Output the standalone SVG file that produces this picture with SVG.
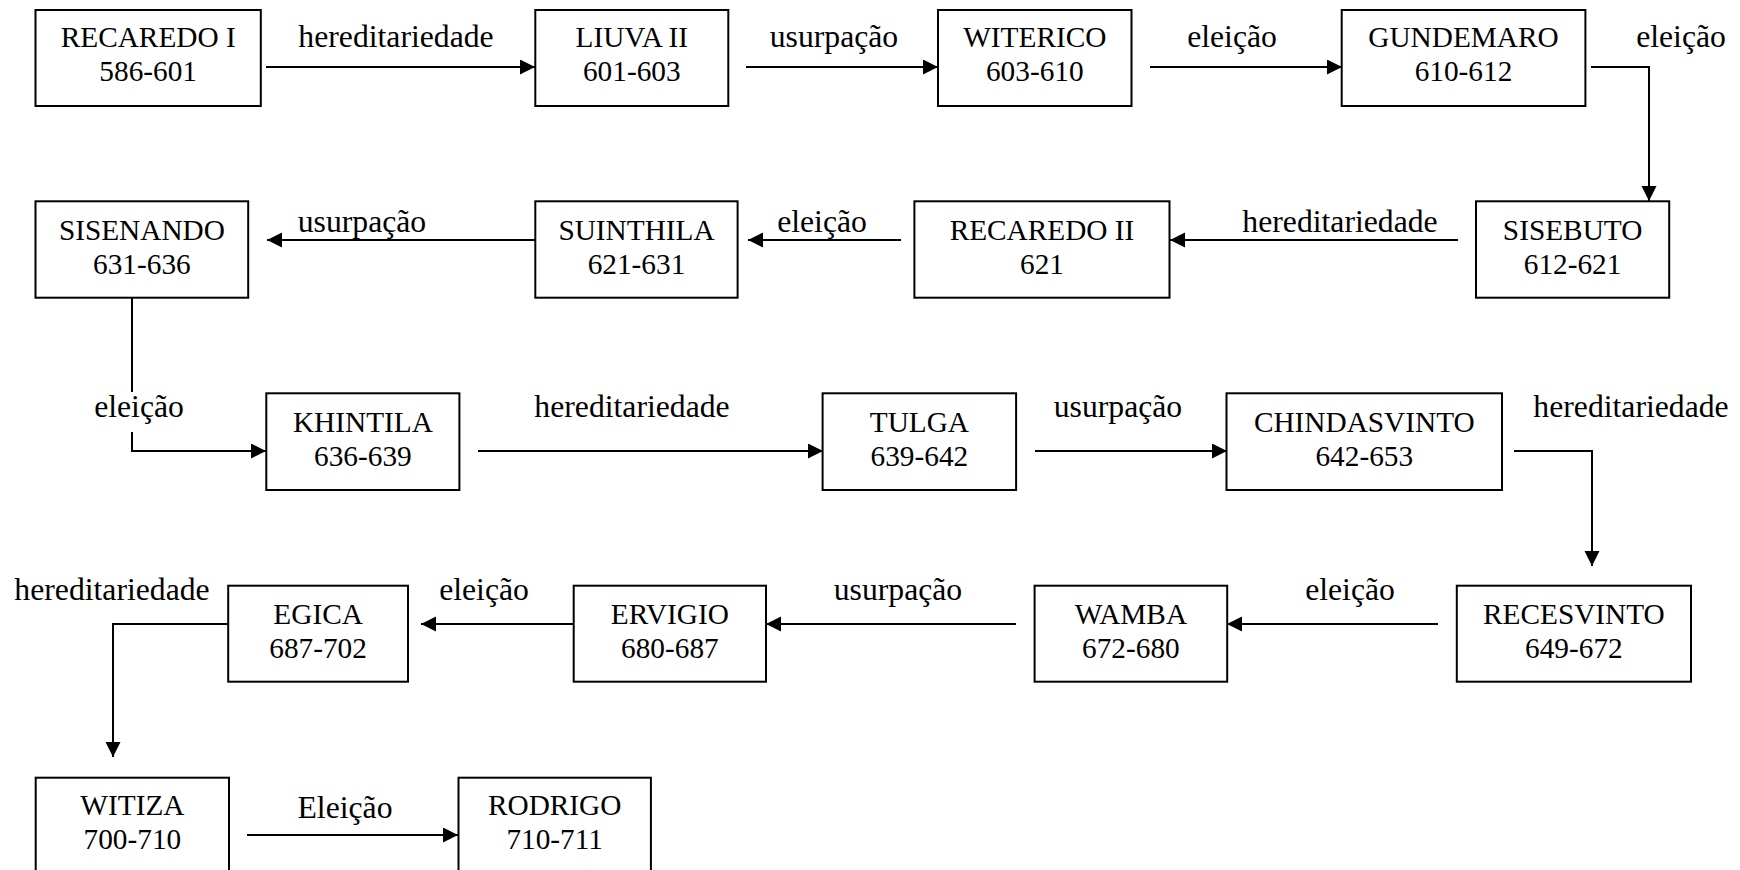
<svg xmlns="http://www.w3.org/2000/svg" width="1740" height="870" viewBox="0 0 1740 870">
<style>
  .box { fill: #fff; stroke: #000; stroke-width: 2; }
  .nt { font-family: "Liberation Serif", "Times New Roman", serif; font-size: 29.3px; fill: #000; text-anchor: middle; }
  .lbl { font-family: "Liberation Serif", "Times New Roman", serif; font-size: 31.7px; fill: #000; text-anchor: middle; }
  .edge { fill: none; stroke: #000; stroke-width: 2; marker-end: url(#arr); }
  .plain { fill: none; stroke: #000; stroke-width: 2; }
</style>
<defs>
  <marker id="arr" markerUnits="userSpaceOnUse" markerWidth="16" markerHeight="16" refX="15" refY="7.5" orient="auto">
    <path d="M0,0 L15,7.5 L0,15 z" fill="#000"/>
  </marker>
</defs>
<rect width="1740" height="870" fill="#fff"/>

<g id="connectors">
  <line class="edge" x1="266" y1="67" x2="535" y2="67"/>
  <line class="edge" x1="746" y1="67" x2="938" y2="67"/>
  <line class="edge" x1="1150" y1="67" x2="1342" y2="67"/>
  <polyline class="edge" points="1591,67 1649,67 1649,201"/>
  <line class="edge" x1="1458" y1="240" x2="1170" y2="240"/>
  <line class="edge" x1="901" y1="240" x2="748" y2="240"/>
  <line class="edge" x1="535" y1="240" x2="267" y2="240"/>
  <line class="plain" x1="132" y1="298" x2="132" y2="392"/>
  <polyline class="edge" points="132,432 132,451 266,451"/>
  <line class="edge" x1="478" y1="451" x2="823" y2="451"/>
  <line class="edge" x1="1035" y1="451" x2="1227" y2="451"/>
  <polyline class="edge" points="1514,451 1592,451 1592,566"/>
  <line class="edge" x1="1438" y1="624" x2="1227" y2="624"/>
  <line class="edge" x1="1016" y1="624" x2="766" y2="624"/>
  <line class="edge" x1="574" y1="624" x2="421" y2="624"/>
  <polyline class="edge" points="228,624 113,624 113,757"/>
  <line class="edge" x1="247" y1="835" x2="458" y2="835"/>

  <text class="lbl" x="396" y="47">hereditariedade</text>
  <text class="lbl" x="834" y="47">usurpação</text>
  <text class="lbl" x="1232" y="47">eleição</text>
  <text class="lbl" x="1681" y="47">eleição</text>
  <text class="lbl" x="362" y="232">usurpação</text>
  <text class="lbl" x="822" y="232">eleição</text>
  <text class="lbl" x="1340" y="232">hereditariedade</text>
  <text class="lbl" x="139" y="417">eleição</text>
  <text class="lbl" x="632" y="417">hereditariedade</text>
  <text class="lbl" x="1118" y="417">usurpação</text>
  <text class="lbl" x="1631" y="417">hereditariedade</text>
  <text class="lbl" x="112" y="600">hereditariedade</text>
  <text class="lbl" x="484" y="600">eleição</text>
  <text class="lbl" x="898" y="600">usurpação</text>
  <text class="lbl" x="1350" y="600">eleição</text>
  <text class="lbl" x="345" y="818">Eleição</text>
</g>

<g id="n-recaredo1"><rect class="box" x="35.5" y="10" width="225.3" height="96"/><text class="nt" x="148.2" y="47">RECAREDO I</text><text class="nt" x="148.2" y="81">586-601</text></g>
<g id="n-liuva2"><rect class="box" x="535.3" y="10" width="193" height="96"/><text class="nt" x="631.8" y="47">LIUVA II</text><text class="nt" x="631.8" y="81">601-603</text></g>
<g id="n-witerico"><rect class="box" x="938" y="10" width="193.5" height="96"/><text class="nt" x="1034.8" y="47">WITERICO</text><text class="nt" x="1034.8" y="81">603-610</text></g>
<g id="n-gundemaro"><rect class="box" x="1341.7" y="10" width="243.7" height="96"/><text class="nt" x="1463.5" y="47">GUNDEMARO</text><text class="nt" x="1463.5" y="81">610-612</text></g>

<g id="n-sisebuto"><rect class="box" x="1476" y="201.3" width="193.2" height="96.4"/><text class="nt" x="1572.6" y="240">SISEBUTO</text><text class="nt" x="1572.6" y="274">612-621</text></g>
<g id="n-recaredo2"><rect class="box" x="914.4" y="201.3" width="255.1" height="96.4"/><text class="nt" x="1042" y="240">RECAREDO II</text><text class="nt" x="1042" y="274">621</text></g>
<g id="n-suinthila"><rect class="box" x="535.3" y="201.3" width="202.3" height="96.4"/><text class="nt" x="636.5" y="240">SUINTHILA</text><text class="nt" x="636.5" y="274">621-631</text></g>
<g id="n-sisenando"><rect class="box" x="35.5" y="201.3" width="212.7" height="96.4"/><text class="nt" x="141.9" y="240">SISENANDO</text><text class="nt" x="141.9" y="274">631-636</text></g>

<g id="n-khintila"><rect class="box" x="266.3" y="393.3" width="193.1" height="96.7"/><text class="nt" x="362.9" y="432">KHINTILA</text><text class="nt" x="362.9" y="466">636-639</text></g>
<g id="n-tulga"><rect class="box" x="822.6" y="393.3" width="193.5" height="96.7"/><text class="nt" x="919.4" y="432">TULGA</text><text class="nt" x="919.4" y="466">639-642</text></g>
<g id="n-chindasvinto"><rect class="box" x="1226.5" y="393.3" width="275.5" height="96.7"/><text class="nt" x="1364.3" y="432">CHINDASVINTO</text><text class="nt" x="1364.3" y="466">642-653</text></g>

<g id="n-recesvinto"><rect class="box" x="1456.8" y="585.7" width="234.2" height="96"/><text class="nt" x="1573.9" y="624">RECESVINTO</text><text class="nt" x="1573.9" y="658">649-672</text></g>
<g id="n-wamba"><rect class="box" x="1034.6" y="585.7" width="192.6" height="96"/><text class="nt" x="1130.9" y="624">WAMBA</text><text class="nt" x="1130.9" y="658">672-680</text></g>
<g id="n-ervigio"><rect class="box" x="573.7" y="585.7" width="192.3" height="96"/><text class="nt" x="669.9" y="624">ERVIGIO</text><text class="nt" x="669.9" y="658">680-687</text></g>
<g id="n-egica"><rect class="box" x="228.2" y="585.7" width="179.8" height="96"/><text class="nt" x="318.1" y="624">EGICA</text><text class="nt" x="318.1" y="658">687-702</text></g>

<g id="n-witiza"><rect class="box" x="35.7" y="777.7" width="193.3" height="96"/><text class="nt" x="132.4" y="815">WITIZA</text><text class="nt" x="132.4" y="849">700-710</text></g>
<g id="n-rodrigo"><rect class="box" x="458.5" y="777.7" width="192.4" height="96"/><text class="nt" x="554.7" y="815">RODRIGO</text><text class="nt" x="554.7" y="849">710-711</text></g>
</svg>
